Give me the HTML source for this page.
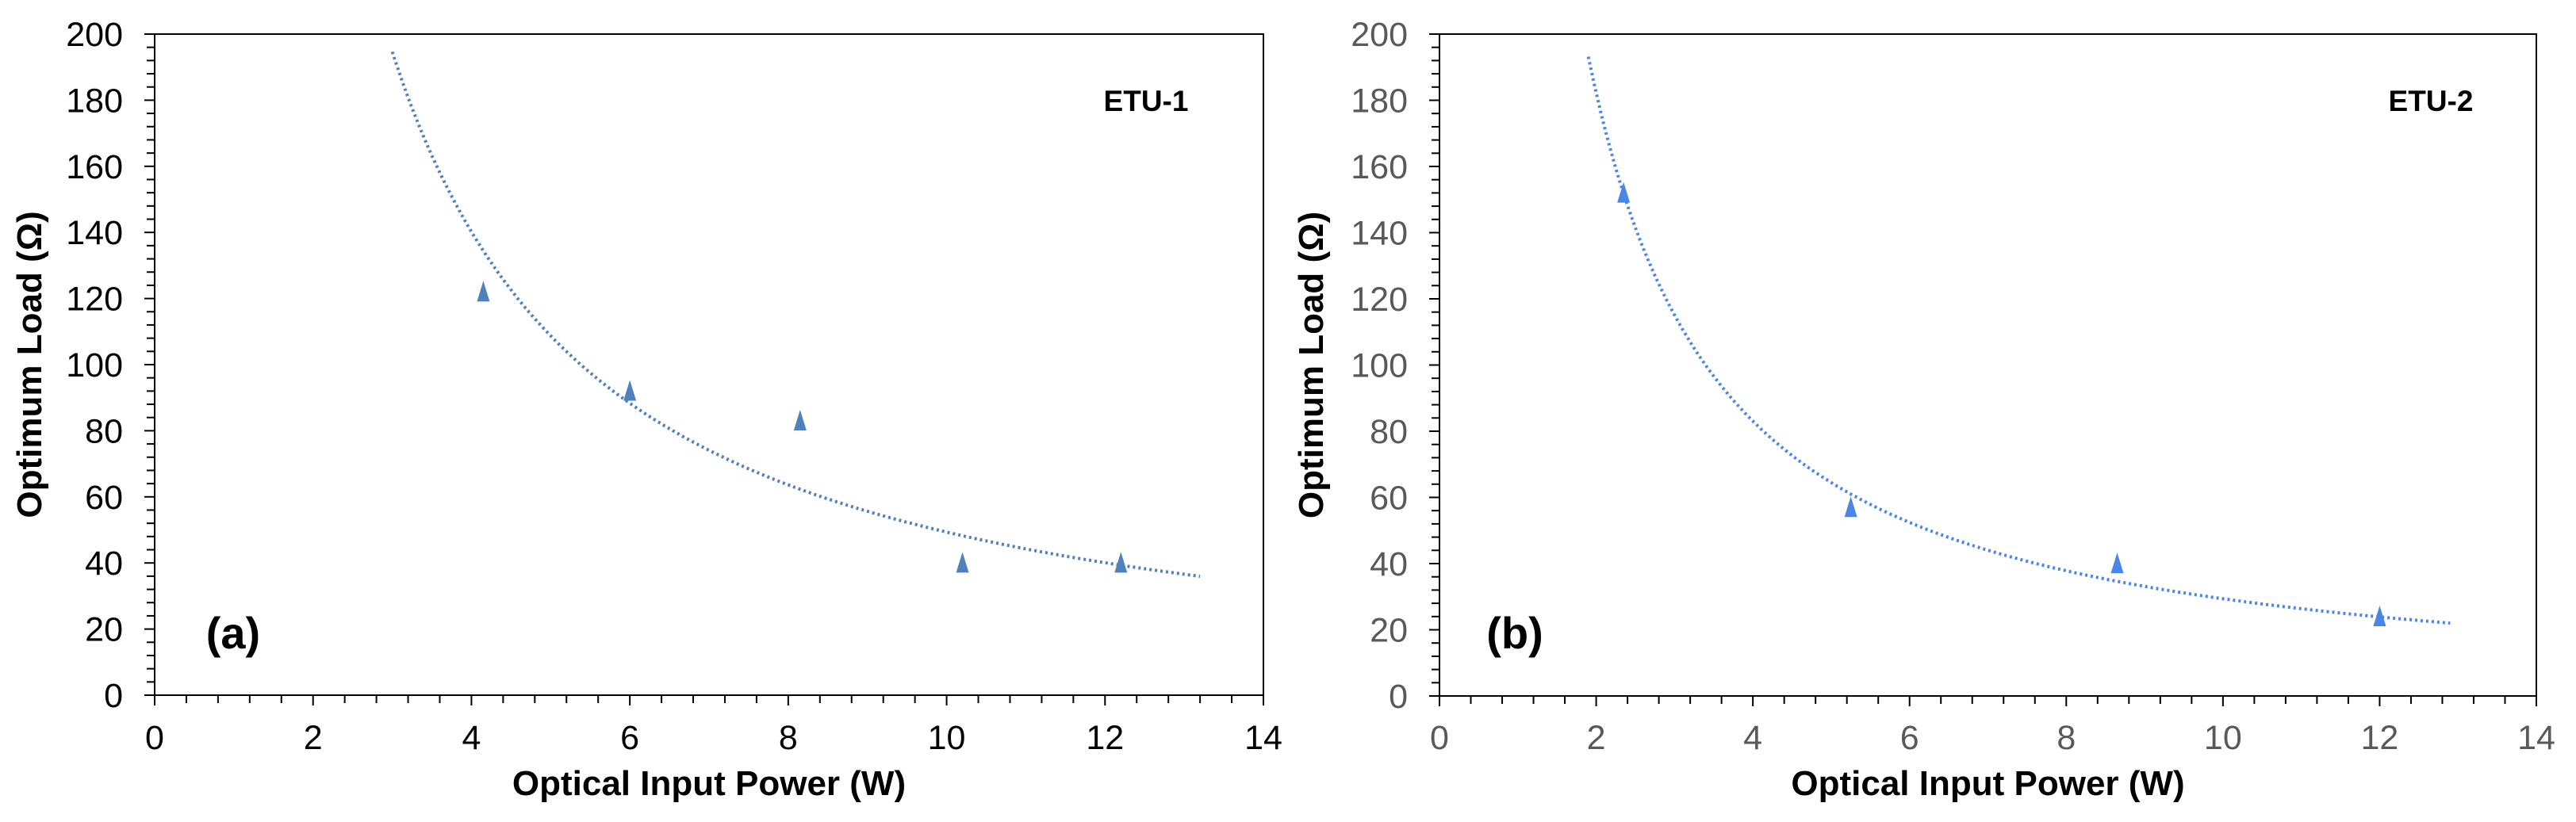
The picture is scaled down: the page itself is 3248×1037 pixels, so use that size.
<!DOCTYPE html>
<html><head><meta charset="utf-8"><style>
html,body{margin:0;padding:0;background:#fff}
svg{display:block;font-family:"Liberation Sans",Arial,sans-serif}
</style></head><body>
<svg id="chart" width="3248" height="1037" viewBox="0 0 3248 1037" xmlns="http://www.w3.org/2000/svg"></svg>
<script>
const xTicks = [0,2,4,6,8,10,12,14];
const yTicks = [0,20,40,60,80,100,120,140,160,180,200];
const seriesAX = [4.15,6.0,8.15,10.2,12.2];
const seriesAY = [121,91,82,39,39];
const trendA = [681,-1.14,3.0,13.2];
const seriesBX = [2.35,5.25,8.65,12.0];
const seriesBY = [151,56,39,23];
const trendB = [400,-1.134,1.9,12.9];

const NS="http://www.w3.org/2000/svg";
const svg=document.getElementById('chart');
function mk(tag,attrs,parent){const e=document.createElementNS(NS,tag);for(const k in attrs)e.setAttribute(k,attrs[k]);(parent||svg).appendChild(e);return e;}

function panel(cfg){
  const g=mk('g',{});
  
  
  const X=v=>cfg.x0+(v-0)/14*(cfg.x1-cfg.x0);
  const Y=v=>cfg.y0-(v/200)*(cfg.y0-cfg.y1);
  const tc=cfg.textColor;
  const frame=mk('rect',{x:cfg.x0,y:cfg.y1,width:cfg.x1-cfg.x0,height:cfg.y0-cfg.y1,fill:'none',stroke:'#000','stroke-width':2},g);
  
  
  for(let v=0;v<=200;v+=4){
    const major=v%20===0;
    mk('line',{x1:cfg.x0-(major?13:10),x2:cfg.x0,y1:Y(v),y2:Y(v),stroke:'#000','stroke-width':2},g);
  }
  yTicks.forEach(v=>{
    const t=mk('text',{x:cfg.x0-40,y:Y(v)+15,'text-anchor':'end','font-size':43,fill:tc},g);
    t.textContent=v;
    
    
  });
  for(let i=0;i<=35;i++){
    const v=i*0.4;const major=i%5===0;
    mk('line',{x1:X(v),x2:X(v),y1:cfg.y0,y2:cfg.y0+(major?13:10),stroke:'#000','stroke-width':2},g);
  }
  xTicks.forEach(v=>{
    const t=mk('text',{x:X(v),y:945,'text-anchor':'middle','font-size':43,fill:tc},g);
    t.textContent=v;
    
    
  });
  const [a,b,s,e]=cfg.trend;let d='';
  for(let i=0;i<=200;i++){const x=s+(e-s)*i/200;const y=a*Math.pow(x,b);d+=(i?'L':'M')+X(x).toFixed(1)+','+Y(y).toFixed(1);}
  const p=mk('path',{d:d,fill:'none',stroke:cfg.lineColor,'stroke-width':4,'stroke-dasharray':'3,4'},g);
  
  
  cfg.xs.forEach((xv,i)=>{
    const cx=X(xv),cy=Y(cfg.ys[i]);
    const m=mk('polygon',{points:`${cx},${cy-18} ${cx-8},${cy+8} ${cx+8},${cy+8}`,fill:cfg.markColor},g);
    
    
  });
  const xt=mk('text',{x:(cfg.x0+cfg.x1)/2,y:1003,'text-anchor':'middle','font-size':44,'font-weight':'bold',fill:'#000'},g);
  xt.textContent='Optical Input Power (W)';
  
  
  const yc=(cfg.y0+cfg.y1)/2;
  const yt=mk('text',{x:cfg.ytx,y:yc,'text-anchor':'middle','font-size':44,'font-weight':'bold',fill:'#000',transform:`rotate(-90 ${cfg.ytx} ${yc})`},g);
  yt.textContent='Optimum Load (Ω)';
  
  
  const et=mk('text',{x:cfg.etuX,y:140,'text-anchor':'middle','font-size':37,'font-weight':'bold',fill:'#000'},g);
  et.textContent=cfg.etu;
  
  
  const pl=mk('text',{x:cfg.plX,y:818,'text-anchor':'middle','font-size':56,'font-weight':'bold',fill:'#000'},g);
  pl.textContent=cfg.pl;
  
  
}
panel({name:'panel-a',x0:195,x1:1593,y0:877,y1:43,textColor:'#000',lineColor:'#4F81BD',markColor:'#4F81BD',trend:trendA,xs:seriesAX,ys:seriesAY,ytx:52,etu:'ETU-1',etuX:1445,pl:'(a)',plX:294});
panel({name:'panel-b',x0:1815,x1:3198,y0:878,y1:43,textColor:'#595959',lineColor:'#4A86E8',markColor:'#4A86E8',trend:trendB,xs:seriesBX,ys:seriesBY,ytx:1668,etu:'ETU-2',etuX:3065,pl:'(b)',plX:1910});
</script>
</body></html>
